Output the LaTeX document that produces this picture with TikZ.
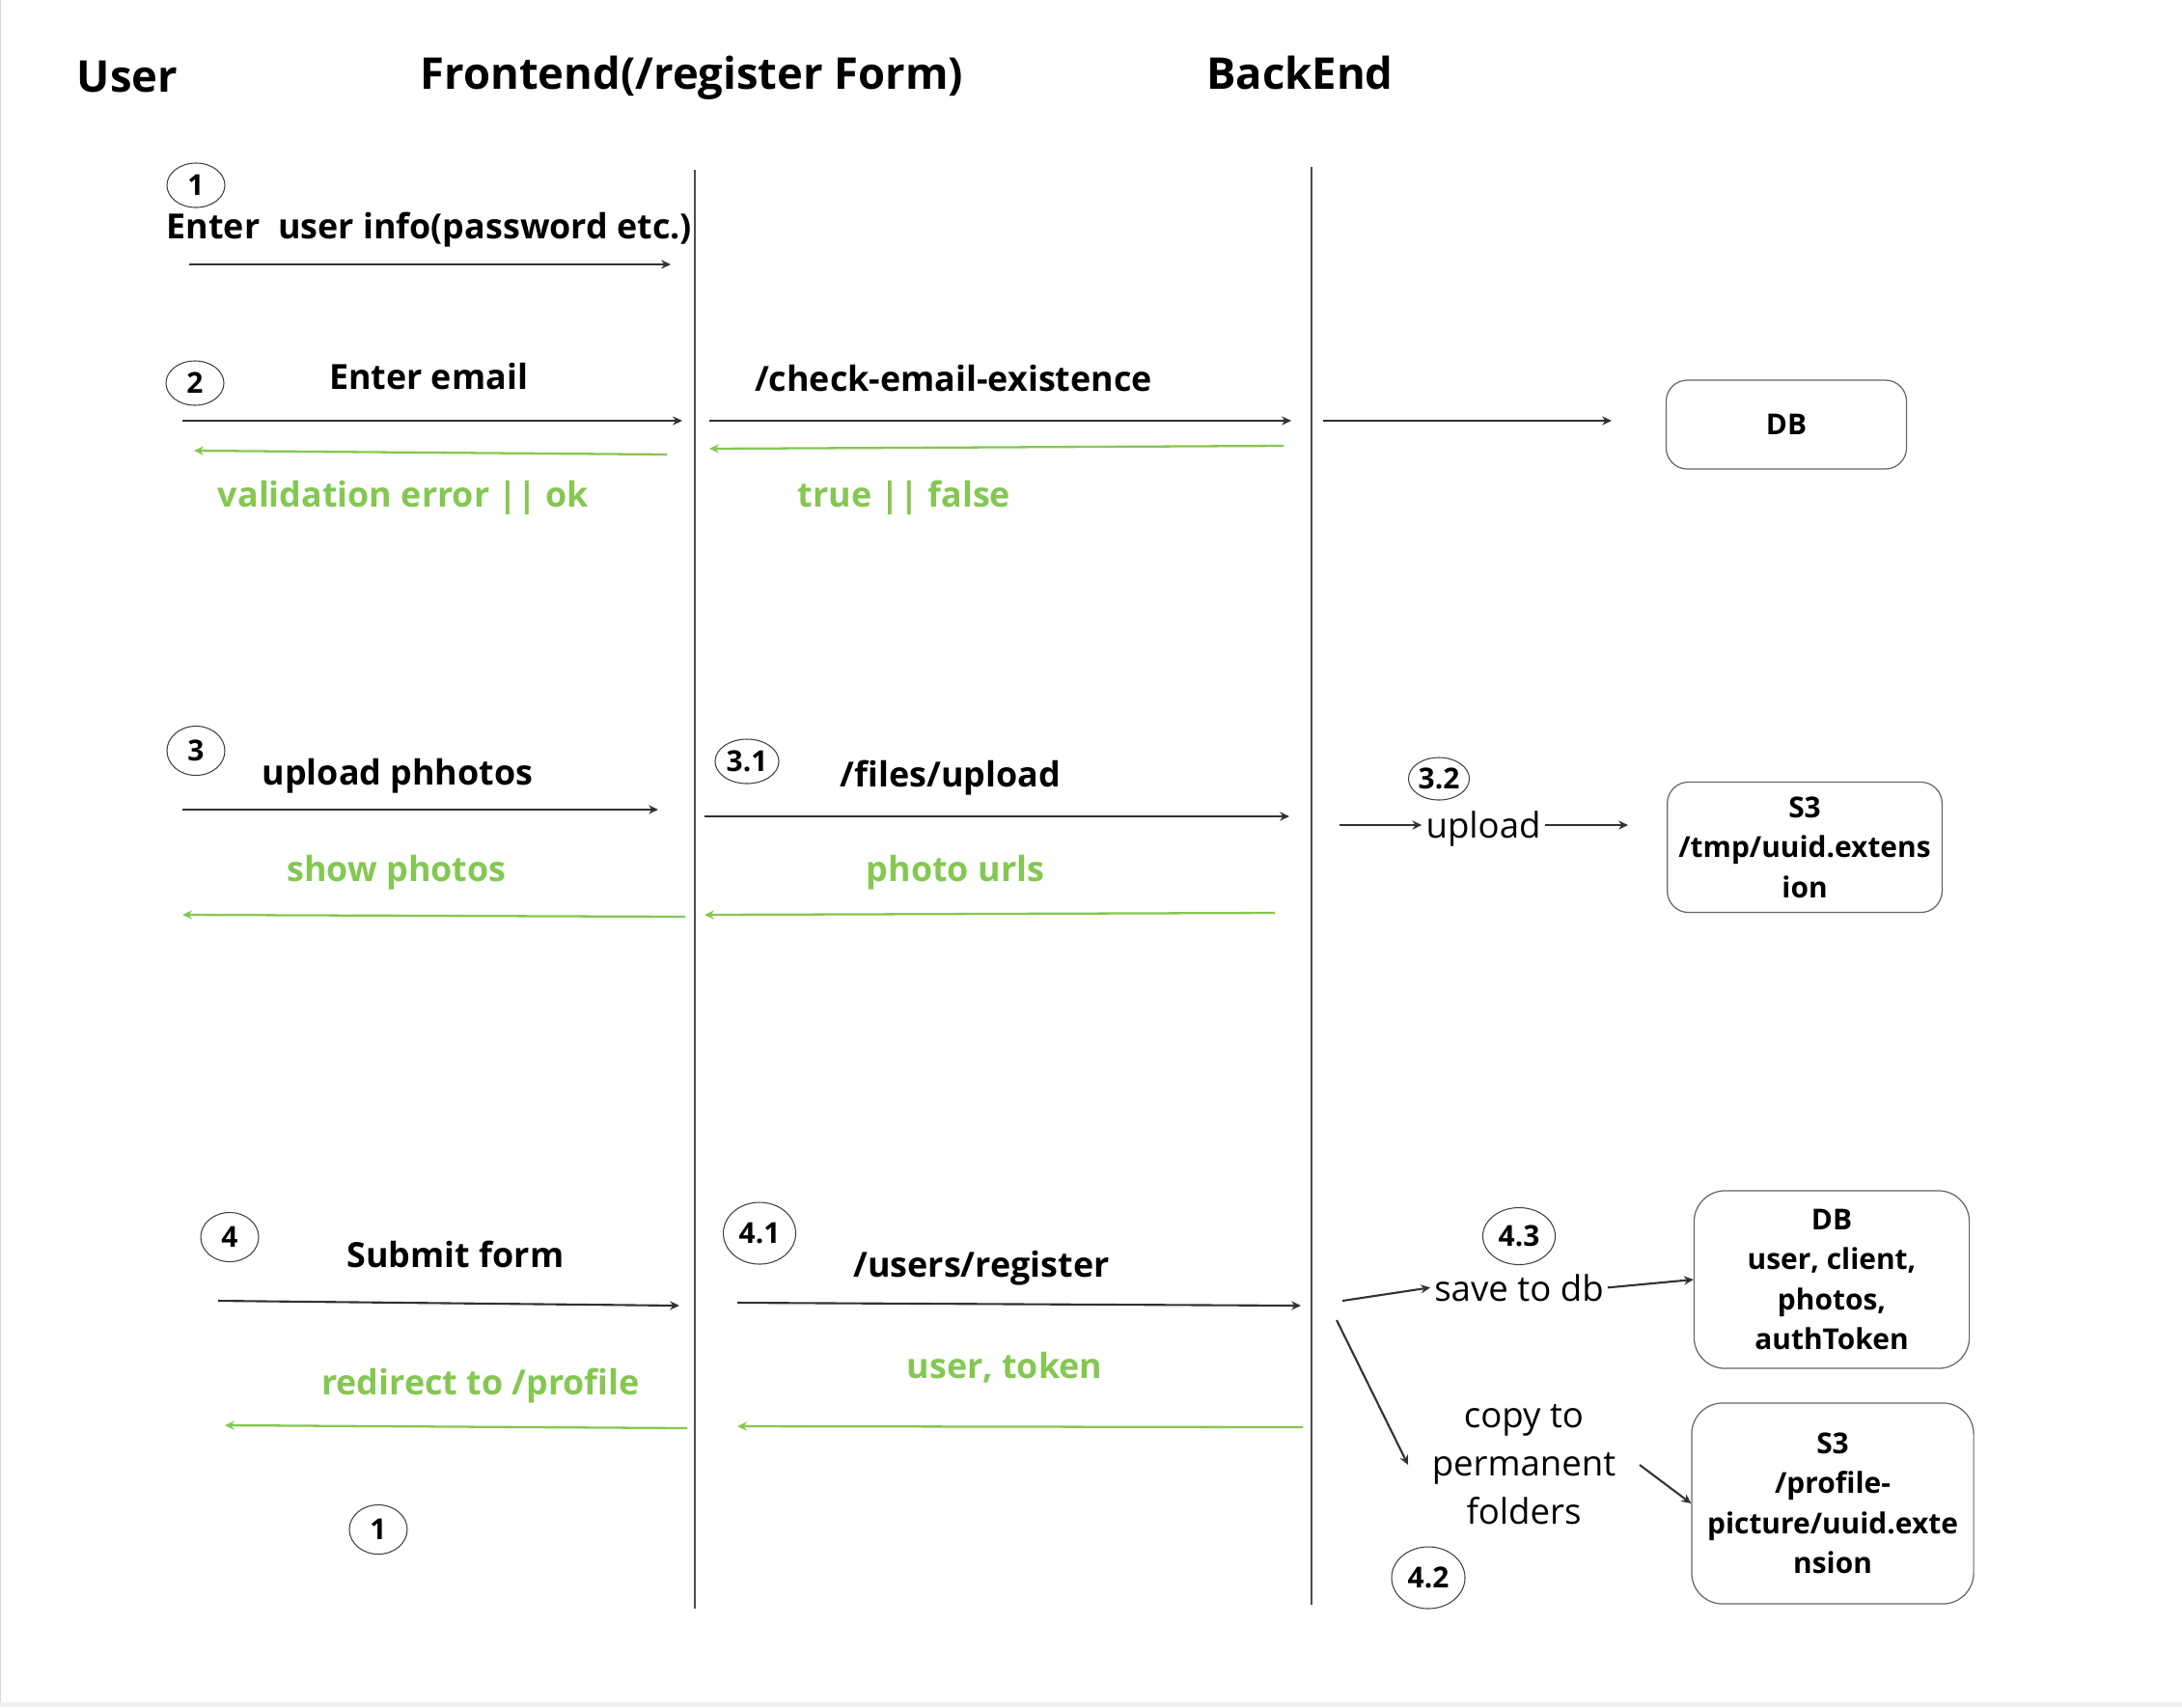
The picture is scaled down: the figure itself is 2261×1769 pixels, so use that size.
\documentclass[tikz,border=0pt]{standalone}
\usepackage{fontspec}
\setmainfont{Open Sans}
\usetikzlibrary{arrows.meta,shapes.geometric}
\definecolor{okgreen}{RGB}{132,199,82}
\definecolor{linegray}{RGB}{50,50,50}
\tikzset{
  head/.style={font=\bfseries\fontsize{12.9}{16}\selectfont, inner sep=0pt},
  lbl/.style={font=\bfseries\fontsize{10.2}{12}\selectfont, inner sep=0pt},
  backlbl/.style={lbl, text=okgreen},
  plain/.style={font=\fontsize{10.4}{14.2}\selectfont, inner sep=1pt},
  stepnum/.style={ellipse, draw=black!75, line width=0.3pt, inner sep=0pt,
    font=\bfseries\fontsize{8.5}{10}\selectfont, minimum width=0.6cm, minimum height=0.46cm},
  store/.style={draw=black!60, line width=0.35pt, rounded corners=0.22cm, align=center,
    font=\bfseries\fontsize{8.5}{11.8}\selectfont},
  msg/.style={draw=linegray, line width=0.6pt, -{Stealth[length=2.8pt,width=2.6pt]}},
  reply/.style={draw=okgreen, line width=0.65pt, -{Stealth[length=2.8pt,width=2.6pt]}},
  lifeline/.style={draw=black!70, line width=0.4pt},
}
\begin{document}
\begin{tikzpicture}[x=0.01cm,y=-0.01cm]
    \useasboundingbox (0,0) rectangle (2261,1769);
    % frame
    \fill[black!5] (0,1764) rectangle (2261,1769);
    \draw[black!15, line width=0.3pt] (0.5,0) -- (0.5,1764);

    % Coordinates
    \coordinate (ftop) at (720,176);
    \coordinate (fbot) at (720,1667);
    \coordinate (btop) at (1359,173);
    \coordinate (bbot) at (1359,1663);

    \coordinate (m1s) at (196,274);   \coordinate (m1e) at (695,274);

    \coordinate (m2s) at (189,436);   \coordinate (m2e) at (707,436);
    \coordinate (r2s) at (691,471);   \coordinate (r2e) at (201,467);
    \coordinate (m2bs) at (735,436);  \coordinate (m2be) at (1338,436);
    \coordinate (r2bs) at (1330,462); \coordinate (r2be) at (735,465);
    \coordinate (dbs) at (1371,436);  \coordinate (dbe) at (1670,436);

    \coordinate (m3s) at (189,839);   \coordinate (m3e) at (682,839);
    \coordinate (r3s) at (710,950);   \coordinate (r3e) at (189,948);
    \coordinate (m3bs) at (730,846);  \coordinate (m3be) at (1336,846);
    \coordinate (r3bs) at (1321,946); \coordinate (r3be) at (730,948);
    \coordinate (ups) at (1388,855);  \coordinate (upe) at (1687,855);

    \coordinate (m4s) at (226,1348);  \coordinate (m4e) at (704,1353);
    \coordinate (r4s) at (712,1480);  \coordinate (r4e) at (233,1477);
    \coordinate (m4bs) at (764,1350); \coordinate (m4be) at (1348,1353);
    \coordinate (r4bs) at (1350,1479);\coordinate (r4be) at (764,1478);
    \coordinate (saves) at (1391,1348);
    \coordinate (forks) at (1385,1368);

    % Headings
    \node[head, anchor=base] (user) at (132,95) {User};
    \node[head, anchor=base] (front) at (717,92) {Frontend(/register Form)};
    \node[head, anchor=base] (back) at (1347,92) {BackEnd};

    % Lifelines
    \draw[lifeline] (ftop) -- (fbot);
    \draw[lifeline] (btop) -- (bbot);

    % Steps
    \node[stepnum] (s1) at (203,192) {1};
    \node[stepnum] (s2) at (202,397) {2};
    \node[stepnum, minimum height=0.51cm] (s3) at (203,778) {3};
    \node[stepnum, minimum width=0.66cm] (s31) at (774,789) {3.1};
    \node[stepnum, minimum width=0.63cm, minimum height=0.44cm] (s32) at (1491,807) {3.2};
    \node[stepnum, minimum height=0.51cm] (s4) at (238,1282) {4};
    \node[stepnum, minimum width=0.75cm, minimum height=0.64cm] (s41) at (787,1278) {4.1};
    \node[stepnum, minimum width=0.76cm, minimum height=0.64cm] (s42) at (1480,1635) {4.2};
    \node[stepnum, minimum width=0.75cm, minimum height=0.59cm] (s43) at (1574,1281) {4.3};
    \node[stepnum, minimum height=0.51cm] (s1b) at (392,1585) {1};

    % Labels
    \node[lbl, anchor=base west] (m1) at (172,247) {Enter\ \ user info(password etc.)};
    \node[lbl, anchor=base] (m2) at (444,403) {Enter email};
    \node[backlbl, anchor=base] (r2) at (418,525) {validation error || ok};
    \node[lbl, anchor=base] (m2b) at (988,405) {/check-email-existence};
    \node[backlbl, anchor=base] (r2b) at (937,525) {true || false};
    \node[lbl, anchor=base] (m3) at (412,813) {upload phhotos};
    \node[backlbl, anchor=base] (r3) at (411,913) {show photos};
    \node[lbl, anchor=base] (m3b) at (985,815) {/files/upload};
    \node[backlbl, anchor=base] (r3b) at (990,913) {photo urls};
    \node[plain, anchor=base] (up32) at (1537,868) {upload};
    \node[lbl, anchor=base] (m4) at (472,1313) {Submit form};
    \node[backlbl, anchor=base] (r4) at (498,1445) {redirect to /profile};
    \node[lbl, anchor=base] (m4b) at (1017,1323) {/users/register};
    \node[backlbl, anchor=base] (r4b) at (1041,1428) {user, token};
    \node[plain, anchor=base] (save) at (1574,1348) {save to db};
    \node[plain, align=center, inner sep=0.24cm] (copy) at (1579,1518) {copy to\\permanent\\folders};

    % Stores
    \node[store, minimum width=2.49cm, minimum height=0.92cm] (db) at (1851,440) {DB};
    \node[store, minimum width=2.79cm, minimum height=1.35cm] (tmp) at (1870,878)
        {S3\\/tmp/uuid.extens\\ion};
    \node[store, minimum width=2.85cm, minimum height=1.84cm, rounded corners=0.32cm] (dbfull) at (1898,1326)
        {DB\\user, client,\\photos,\\authToken};
    \node[store, minimum width=2.92cm, minimum height=2.08cm, rounded corners=0.32cm] (perm) at (1899,1558)
        {S3\\/profile-\\picture/uuid.exte\\nsion};

    % Messages
    \draw[msg] (m1s) -- (m1e);
    \draw[msg] (m2s) -- (m2e);
    \draw[msg] (m2bs) -- (m2be);
    \draw[msg] (dbs) -- (dbe);
    \draw[msg] (m3s) -- (m3e);
    \draw[msg] (m3bs) -- (m3be);
    \draw[msg] (ups) -- (ups -| up32.west);
    \draw[msg] (up32.east |- ups) -- (upe);
    \draw[msg] (m4s) -- (m4e);
    \draw[msg] (m4bs) -- (m4be);
    \draw[msg] (saves) -- (save.west);
    \draw[msg] (save.east) -- (dbfull.west);
    \draw[msg] (forks) -- (copy.west);
    \draw[msg] (copy.east) -- (perm.west);

    % Replies
    \draw[reply] (r2s) -- (r2e);
    \draw[reply] (r2bs) -- (r2be);
    \draw[reply] (r3s) -- (r3e);
    \draw[reply] (r3bs) -- (r3be);
    \draw[reply] (r4s) -- (r4e);
    \draw[reply] (r4bs) -- (r4be);
\end{tikzpicture}
\end{document}
